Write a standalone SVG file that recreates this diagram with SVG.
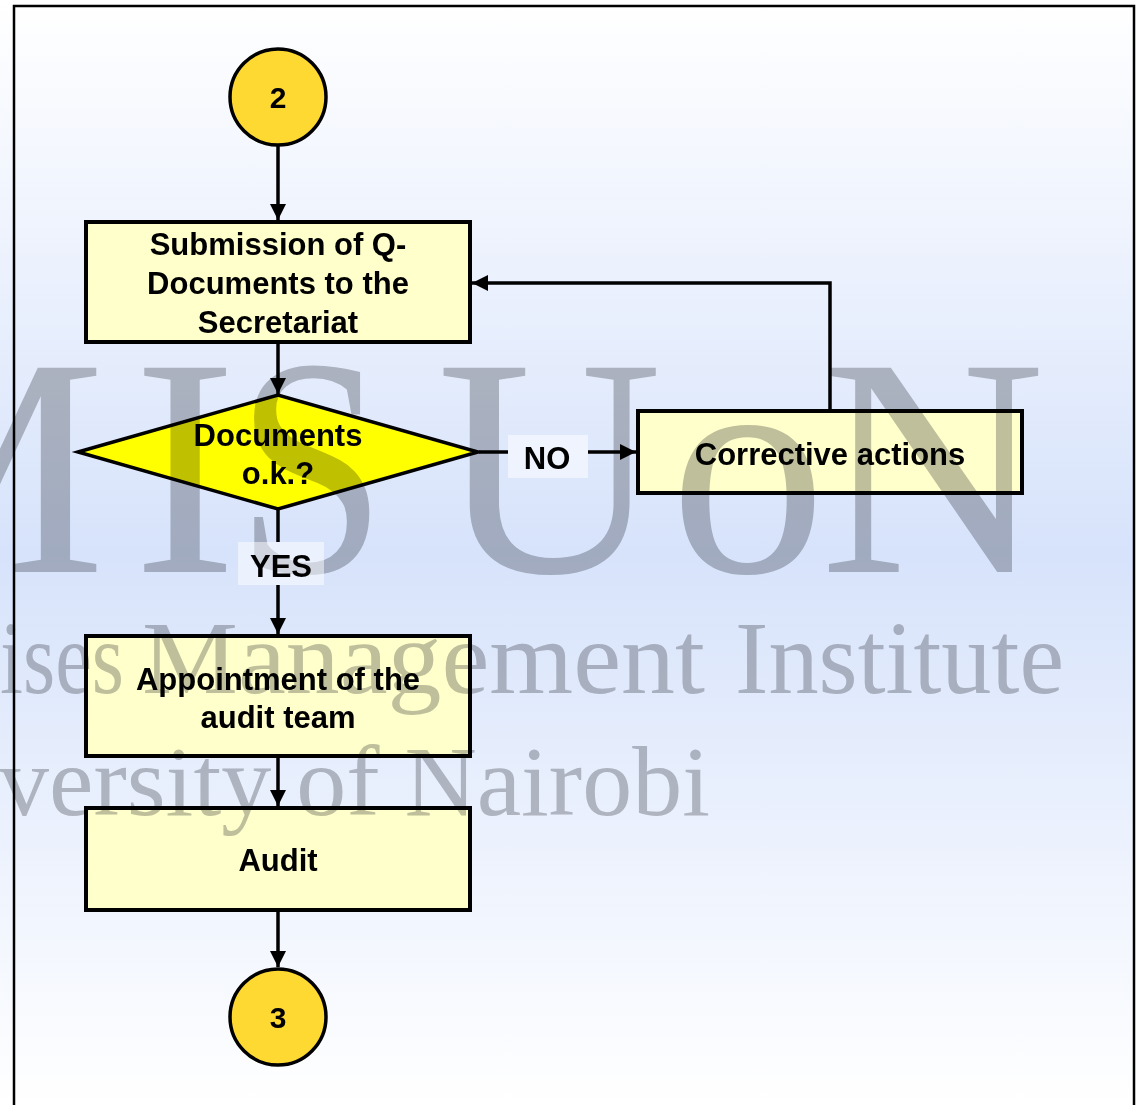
<svg xmlns="http://www.w3.org/2000/svg" width="1138" height="1105" viewBox="0 0 1138 1105">
<defs>
<linearGradient id="bg" x1="0" y1="0" x2="0" y2="1105" gradientUnits="userSpaceOnUse">
<stop offset="0" stop-color="#ffffff"/>
<stop offset="0.5" stop-color="#d7e3fb"/>
<stop offset="1" stop-color="#ffffff"/>
</linearGradient>
<marker id="arr" viewBox="0 0 16 16" refX="16" refY="8" markerWidth="16" markerHeight="16" markerUnits="userSpaceOnUse" orient="auto">
<path d="M0,0 L16,8 L0,16 z" fill="#000"/>
</marker>
</defs>
<style>
.box{fill:#ffffcc;stroke:#000;stroke-width:4}
.circ{fill:#fed931;stroke:#000;stroke-width:3.5}
.dia{fill:#ffff00;stroke:#000;stroke-width:3.5}
.t{font-family:"Liberation Sans",Arial,sans-serif;font-weight:bold;font-size:31px;fill:#000;text-anchor:middle}
.num{font-size:30px}
.ln{fill:none;stroke:#000;stroke-width:3.5}
.lbl{fill:#ffffff;fill-opacity:0.5}
.wm{font-family:"Liberation Serif","Times New Roman",serif;fill:#bfc0c2;mix-blend-mode:multiply}
</style>
<rect x="0" y="0" width="1138" height="1105" fill="url(#bg)"/>
<rect x="1135" y="0" width="3" height="1105" fill="#ffffff"/>
<rect x="0" y="0" width="1138" height="5" fill="#ffffff"/>

<g id="node-2">
<circle class="circ" cx="278" cy="97" r="48"/>
<text class="t num" x="278" y="108">2</text>
</g>
<g id="node-submission">
<rect class="box" x="86" y="222" width="384" height="120"/>
<text class="t" x="278" y="255">Submission of Q-</text>
<text class="t" x="278" y="294">Documents to the</text>
<text class="t" x="278" y="333">Secretariat</text>
</g>
<g id="node-decision">
<polygon class="dia" points="78,452 278,395 478,452 278,509"/>
<text class="t" x="278" y="446">Documents</text>
<text class="t" x="278" y="484">o.k.?</text>
</g>
<g id="node-corrective">
<rect class="box" x="638" y="411" width="384" height="82"/>
<text class="t" x="830" y="465">Corrective actions</text>
</g>
<g id="node-appointment">
<rect class="box" x="86" y="636" width="384" height="120"/>
<text class="t" x="278" y="690">Appointment of the</text>
<text class="t" x="278" y="728">audit team</text>
</g>
<g id="node-audit">
<rect class="box" x="86" y="808" width="384" height="102"/>
<text class="t" x="278" y="871">Audit</text>
</g>
<g id="node-3">
<circle class="circ" cx="278" cy="1017" r="48"/>
<text class="t num" x="278" y="1028">3</text>
</g>

<g id="watermark">
<text class="wm" font-size="312" y="572"><tspan x="-172">M</tspan><tspan x="133">I</tspan><tspan x="236" textLength="150" lengthAdjust="spacingAndGlyphs">S</tspan> <tspan x="437">U</tspan><tspan x="670">o</tspan><tspan x="820">N</tspan></text>
<text class="wm" font-size="104" y="693"><tspan x="0" textLength="124" lengthAdjust="spacingAndGlyphs">ises</tspan> <tspan x="142" textLength="563" lengthAdjust="spacingAndGlyphs">Management</tspan> <tspan x="735" textLength="329" lengthAdjust="spacingAndGlyphs">Institute</tspan></text>
<text class="wm" font-size="100" x="-1" y="815">versity of Nairobi</text>
</g>

<g id="connectors">
<line class="ln" x1="278" y1="146" x2="278" y2="220" marker-end="url(#arr)"/>
<line class="ln" x1="278" y1="343" x2="278" y2="394" marker-end="url(#arr)"/>
<line class="ln" x1="278" y1="510" x2="278" y2="542"/>
<line class="ln" x1="278" y1="585" x2="278" y2="634" marker-end="url(#arr)"/>
<line class="ln" x1="278" y1="757" x2="278" y2="806" marker-end="url(#arr)"/>
<line class="ln" x1="278" y1="911" x2="278" y2="967" marker-end="url(#arr)"/>
<line class="ln" x1="479" y1="452" x2="508" y2="452"/>
<line class="ln" x1="588" y1="452" x2="636" y2="452" marker-end="url(#arr)"/>
<polyline class="ln" points="830,410 830,283 472,283" marker-end="url(#arr)"/>
<rect class="lbl" x="238" y="542" width="86" height="43"/>
<text class="t" x="281" y="577">YES</text>
<rect class="lbl" x="508" y="435" width="80" height="43"/>
<text class="t" x="547" y="469">NO</text>
</g>

<rect id="frame" x="14" y="6" width="1120" height="1110" fill="none" stroke="#000" stroke-width="2.5"/>
</svg>
